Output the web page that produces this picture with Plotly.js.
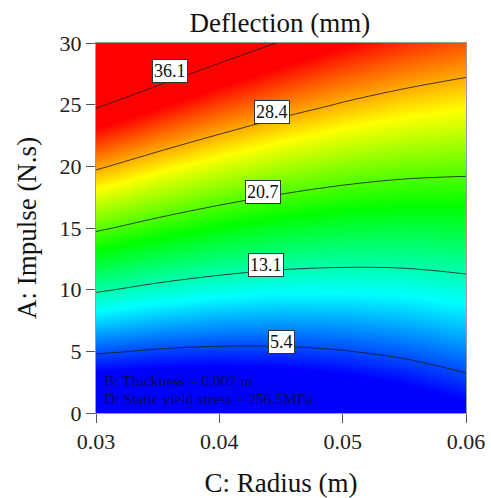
<!DOCTYPE html>
<html>
<head>
<meta charset="utf-8">
<script src="https://cdn.plot.ly/plotly-3.0.1.min.js"></script>
<style>html,body{margin:0;padding:0;background:#fff;}#chart{width:491px;height:498px;}</style>
</head>
<body>
<div id="chart"></div>
<script>
// C: Radius (m)
var radius = [0.03, 0.035, 0.04, 0.045, 0.05, 0.055, 0.06];
// A: Impulse (N.s)
var impulse = [0, 5, 10, 15, 20, 25, 30];
// Deflection (mm), rows follow impulse, columns follow radius
var deflection = [
  [-1.96, -2.06, -1.85, -1.30, -0.43, 0.76, 2.28],
  [5.74, 5.13, 4.85, 4.90, 5.29, 6.02, 7.08],
  [13.44, 12.32, 11.54, 11.10, 11.05, 11.27, 11.88],
  [21.14, 19.51, 18.23, 17.30, 16.73, 16.53, 16.68],
  [28.84, 26.70, 24.92, 23.50, 22.45, 21.78, 21.48],
  [36.54, 33.89, 31.61, 29.70, 28.17, 27.04, 26.28],
  [44.24, 41.08, 38.30, 35.90, 33.89, 32.29, 31.08]
];
// contour levels and where their labels sit
var levels = [5.4, 13.1, 20.7, 28.4, 36.1];
var labelX = [0.04504, 0.04382, 0.0435, 0.04427, 0.03604];
var labelY = [5.76, 12.04, 17.92, 24.41, 27.73];
var xTicks = [0.03, 0.04, 0.05, 0.06];
var xTickText = ['0.03', '0.04', '0.05', '0.06'];
var yTicks = [0, 5, 10, 15, 20, 25, 30];
var notes = ['B: Thickness = 0.002 m', 'D: Static yield stress = 256.5MPa'];

var serif = 'Liberation Serif, Times New Roman, serif';

var traces = [{
  type: 'heatmap',
  x: radius, y: impulse, z: deflection,
  zsmooth: 'best',
  zauto: false, zmin: 3.2, zmax: 33.6,
  colorscale: [
    [0, 'rgb(0,0,255)'],
    [0.25, 'rgb(0,255,255)'],
    [0.5, 'rgb(0,255,0)'],
    [0.75, 'rgb(255,255,0)'],
    [1, 'rgb(255,0,0)']
  ],
  showscale: false,
  hoverinfo: 'skip'
}];

levels.forEach(function (lv) {
  traces.push({
    type: 'contour',
    x: radius, y: impulse, z: deflection,
    contours: {type: 'constraint', operation: '=', value: lv, showlabels: false},
    line: {color: 'rgba(25,25,25,0.8)', width: 1, smoothing: 1},
    showscale: false,
    showlegend: false,
    hoverinfo: 'skip'
  });
});

var annotations = levels.map(function (lv, i) {
  return {
    x: labelX[i], y: labelY[i], xref: 'x', yref: 'y',
    text: lv.toFixed(1), showarrow: false,
    font: {family: serif, size: 18, color: '#111'},
    bgcolor: '#ffffff', bordercolor: '#333', borderwidth: 1, borderpad: 1
  };
});
annotations.push({
  x: 0.015, y: 0.089, xref: 'paper', yref: 'paper', xanchor: 'left', yanchor: 'middle',
  text: notes[0], showarrow: false,
  font: {family: serif, size: 15.5, color: 'rgb(10,10,80)'}
});
annotations.push({
  x: 0.015, y: 0.040, xref: 'paper', yref: 'paper', xanchor: 'left', yanchor: 'middle',
  text: notes[1], showarrow: false,
  font: {family: serif, size: 15.5, color: 'rgb(10,10,80)'}
});

var layout = {
  width: 491, height: 498,
  margin: {l: 96, r: 25, t: 43, b: 85},
  paper_bgcolor: '#fff', plot_bgcolor: '#fff',
  showlegend: false,
  title: {text: 'Deflection (mm)', font: {family: serif, size: 27, color: '#111'},
          x: 0.57, xref: 'container', xanchor: 'center', y: 0.955, yref: 'container', yanchor: 'middle'},
  xaxis: {
    range: [0.03, 0.06], tickvals: xTicks, ticktext: xTickText,
    ticks: 'outside', ticklen: 9, tickcolor: '#555', tickwidth: 1,
    showgrid: false, zeroline: false,
    showline: true, mirror: true, linecolor: '#999', linewidth: 1,
    tickfont: {family: serif, size: 22, color: '#222'},
    title: {text: 'C: Radius (m)', font: {family: serif, size: 27, color: '#111'}, standoff: 19}
  },
  yaxis: {
    range: [0, 30], tickvals: yTicks,
    ticks: 'outside', ticklen: 9, tickcolor: '#555', tickwidth: 1,
    showgrid: false, zeroline: false,
    showline: true, mirror: true, linecolor: '#999', linewidth: 1,
    tickfont: {family: serif, size: 22, color: '#222'},
    title: {text: 'A: Impulse (N.s)', font: {family: serif, size: 27, color: '#111'}, standoff: 15}
  },
  annotations: annotations
};

Plotly.newPlot('chart', traces, layout, {displayModeBar: false, staticPlot: true});
</script>
</body>
</html>
